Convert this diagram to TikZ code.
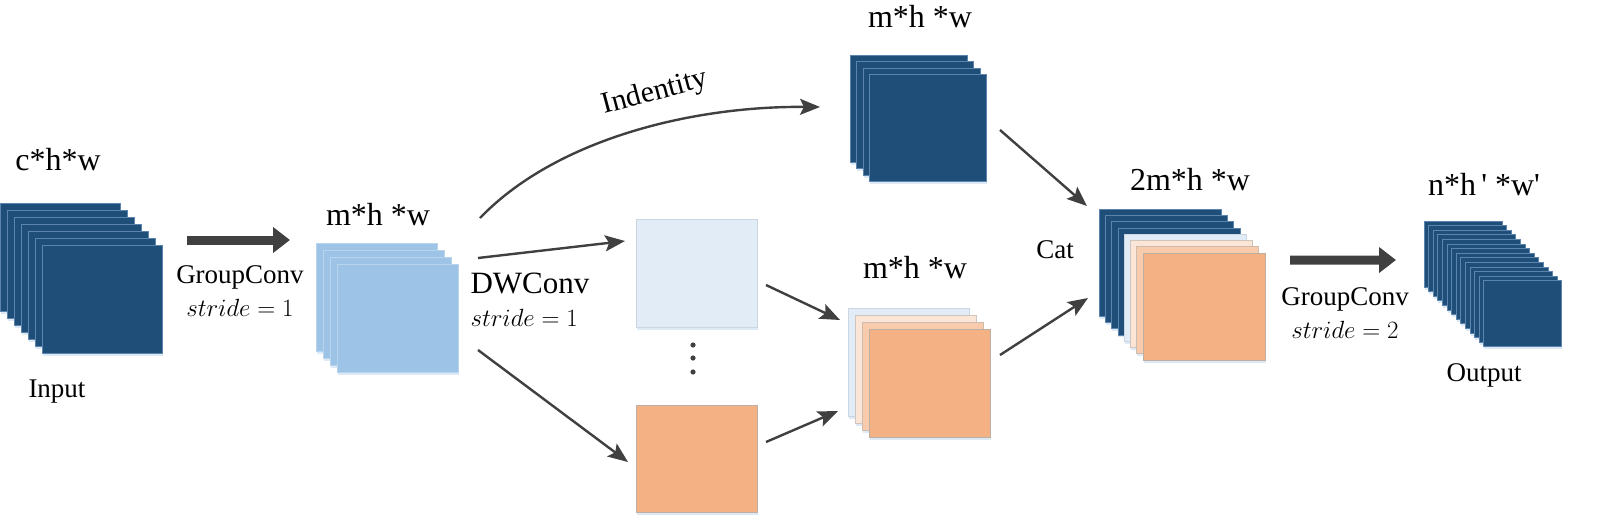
\documentclass[tikz,border=0pt]{standalone}
\usepackage{fontspec}
\setmainfont{Liberation Serif}
\newfontfamily\rawserif[Ligatures=TeXOff]{Liberation Serif}
\usetikzlibrary{arrows.meta,shadows}

\definecolor{dkblue}{HTML}{1F4E79}
\definecolor{ltblue}{HTML}{9DC3E6}
\definecolor{pale}{HTML}{E2ECF6}
\definecolor{peachA}{HTML}{FBE5D6}
\definecolor{peachB}{HTML}{F8CBAD}
\definecolor{org}{HTML}{F4B183}
\definecolor{edgedkblue}{HTML}{5B84AE}
\definecolor{edgeltblue}{HTML}{B9D5EE}
\definecolor{edgepale}{HTML}{CBD6E2}
\definecolor{edgepeachA}{HTML}{CFC5BD}
\definecolor{edgepeachB}{HTML}{CDBBAE}
\definecolor{edgeorg}{HTML}{BCAFA5}
\definecolor{arrgray}{HTML}{404040}

\newcommand{\dimfont}{\rmfamily\fontsize{32}{36}\selectfont}
\newcommand{\capfont}{\rmfamily\fontsize{27}{33}\selectfont}

% name, x, y (back sheet), step, width, height, colours
\newcommand{\sheetstack}[7]{%
  \foreach \c [count=\i] in {#7} {
    \node[sheet=\c, minimum width=#5pt, minimum height=#6pt]
      (#1-\i) at ({#2+(\i-1)*#4},{#3+(\i-1)*#4}) {};
  }}

\begin{document}
\begin{tikzpicture}[x=1pt,y=-1pt,
  sheet/.style={fill=#1, draw=edge#1, line width=0.8pt, inner sep=0pt,
    outer sep=0pt, anchor=north west,
    drop shadow={shadow xshift=0.5pt, shadow yshift=-2.5pt, fill=ltblue, opacity=.35}},
  arr/.style={draw=arrgray, line width=2.4pt, -{Stealth[length=20pt,width=16pt,inset=4pt]}},
  fatarr/.style={draw=arrgray, line width=9pt, -{Triangle[length=17pt,width=25pt]}},
  dimlbl/.style={font=\dimfont, inner sep=0pt},
  lbl/.style={font=\capfont, inner sep=0pt, align=center}]

  % feature maps
  \sheetstack{in}{0}{203}{7}{120}{108}{dkblue,dkblue,dkblue,dkblue,dkblue,dkblue,dkblue}
  \sheetstack{mid}{316}{243}{7}{121}{108}{ltblue,ltblue,ltblue,ltblue}
  \sheetstack{top}{850}{55}{6.5}{117}{107}{dkblue,dkblue,dkblue,dkblue}
  \node[sheet=pale, minimum width=121pt, minimum height=108pt] (dwa) at (636,219) {};
  \node[sheet=org, minimum width=121pt, minimum height=107pt] (dwb) at (636,405) {};
  \sheetstack{dwcat}{848}{308}{7}{121}{108}{pale,peachA,peachB,org}
  \sheetstack{cat}{1099}{209}{6.3}{122}{107}{dkblue,dkblue,dkblue,dkblue,pale,peachA,peachB,org}
  \sheetstack{out}{1424}{221}{4.6}{78}{66}{dkblue,dkblue,dkblue,dkblue,dkblue,dkblue,dkblue,dkblue,dkblue,dkblue,dkblue,dkblue,dkblue,dkblue}

  \foreach \yy in {345,358,372}
    \fill[arrgray] (693,\yy) circle (2.6pt);

  % sizes
  \node[dimlbl] (lin) at (58,160) {c*h*w};
  \node[dimlbl] (lmid) at (378,215) {m*h *w};
  \node[dimlbl] (ltop) at (920,17) {m*h *w};
  \node[dimlbl] (ldwcat) at (915,268) {m*h *w};
  \node[dimlbl] (lcat) at (1190,180) {2m*h *w};
  \node[dimlbl] (lout) at (1484,185) {\rawserif n*h\,'\ *w'};

  \node[lbl] (input) at (57,392) {Input};
  \node[lbl] (output) at (1484,375) {Output};
  \node[lbl] (gc1) at (240,291) {GroupConv\\$stride = 1$};
  \node[lbl, align=left] (dwc) at (530,300)
    {{\fontsize{31}{33}\selectfont DWConv}\\$stride = 1$};
  \node[lbl] (gc2) at (1345,313) {GroupConv\\$stride = 2$};
  \node[lbl] (lcatop) at (1055,250) {Cat};
  \node[lbl, font=\rmfamily\fontsize{30}{33}\selectfont, rotate=15] (lid) at (655,93) {Indentity};

  % connectors
  \draw[fatarr] ([xshift=25pt,yshift=5pt]in-7.north east) -- ([xshift=-26pt,yshift=3pt]mid-1.north west);
  \draw[arr] ([xshift=22pt,yshift=46pt]mid-4.north east)
    .. controls (555,140) and (690,106) .. ([xshift=-30pt,yshift=1.5pt]top-1.west);
  \draw[arr] ([xshift=20pt,yshift=60pt]mid-4.east) -- ([xshift=-11pt,yshift=32pt]dwa.west);
  \draw[arr] ([xshift=20pt,yshift=-32pt]mid-4.east) -- ([xshift=-8pt,yshift=-3.5pt]dwb.west);
  \draw[arr] ([xshift=9pt,yshift=-12pt]dwa.east) -- ([xshift=-8pt,yshift=42pt]dwcat-1.west);
  \draw[arr] ([xshift=9pt,yshift=16.5pt]dwb.east) -- ([xshift=-10pt,yshift=-49pt]dwcat-1.west);
  \draw[arr] ([xshift=13.5pt,yshift=-2pt]top-4.east) -- ([xshift=-12pt,yshift=3pt]cat-1.north west);
  \draw[arr] ([xshift=10pt,yshift=28pt]dwcat-4.east) -- ([xshift=-11pt,yshift=-35.5pt]cat-1.west);
  \draw[fatarr] ([xshift=25pt,yshift=-7pt]cat-8.north east) -- ([xshift=-28pt,yshift=-6pt]out-1.west);

  \pgfresetboundingbox
  \useasboundingbox (0,0) rectangle (1600,530);
\end{tikzpicture}
\end{document}
